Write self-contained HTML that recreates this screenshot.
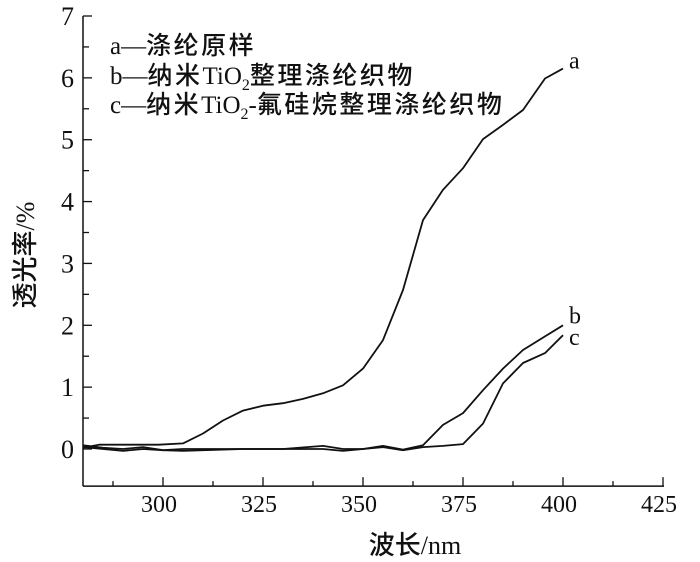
<!DOCTYPE html>
<html><head><meta charset="utf-8"><style>
html,body{margin:0;padding:0;background:#fff;}
svg{display:block;}
text{font-family:"Liberation Serif","Noto Serif CJK SC","Noto Sans CJK SC",serif;fill:#111;}
.cjk{font-family:"Liberation Serif","Noto Sans CJK SC",sans-serif;font-weight:500;}
.leg .cjk{letter-spacing:2.5px;}
</style></head><body>
<svg id="chart" width="700" height="562" viewBox="0 0 700 562" xmlns="http://www.w3.org/2000/svg">
<g id="axes"></g>
<g id="series"></g>
<g class="leg">
<text x="110" y="54" font-size="25">a—<tspan class="cjk">涤纶原样</tspan></text>
<text x="110" y="84" font-size="25">b—<tspan class="cjk">纳米</tspan>TiO<tspan font-size="16" dy="6">2</tspan><tspan class="cjk" dy="-6">整理涤纶织物</tspan></text>
<text x="110" y="113" font-size="25">c—<tspan class="cjk">纳米</tspan>TiO<tspan font-size="16" dy="6">2</tspan><tspan dy="-6">-</tspan><tspan class="cjk">氟硅烷整理涤纶织物</tspan></text>
</g>
<text transform="translate(34,255) rotate(-90)" text-anchor="middle" font-size="26"><tspan class="cjk">透光率</tspan>/%</text>
<text x="415" y="554" text-anchor="middle" font-size="26"><tspan class="cjk">波长</tspan>/nm</text>
</svg>
<script>
const xTicks=[300,325,350,375,400,425];
const yTicks=[0,1,2,3,4,5,6,7];
const xA=[280,284,299,305,310,315,320,325,330,335,340,345,350,355,360,365,370,375,380,385,390,395.5,400];
const yA=[0.02,0.07,0.07,0.09,0.25,0.46,0.62,0.70,0.74,0.81,0.90,1.03,1.30,1.76,2.57,3.70,4.19,4.54,5.01,5.24,5.48,5.99,6.15];
const xB=[280,285,290,295,300,305,310,320,330,340,345,350,355,360,365,370,375,380,385,390,395.5,400];
const yB=[0.06,0.02,0.0,0.03,-0.02,0.0,0.0,0.0,0.0,0.05,0.0,0.0,0.05,-0.01,0.06,0.39,0.58,0.95,1.30,1.60,1.82,2.0];
const xC=[280,285,290,295,300,305,310,320,330,340,345,350,355,360,365,370,375,380,385,390,395.5,400];
const yC=[0.03,0.0,-0.03,0.0,-0.02,-0.03,-0.02,0.0,0.0,0.0,-0.03,0.0,0.03,-0.02,0.03,0.05,0.08,0.41,1.06,1.39,1.55,1.84];
const ns="http://www.w3.org/2000/svg";
const X0=83,X1=663,Y0=449,YT=16;
function sx(v){return X0+(v-280)*(X1-X0)/145;}
function sy(v){return Y0-v*(Y0-YT)/7;}
const axes=document.getElementById('axes');
function mk(tag,attrs,parent){const e=document.createElementNS(ns,tag);for(const k in attrs)e.setAttribute(k,attrs[k]);parent.appendChild(e);return e;}
const base=sy(-0.6);
let e=mk('line',{x1:X0,y1:YT,x2:X0,y2:base,stroke:'#111','stroke-width':1.5},axes);


e=mk('line',{x1:X0,y1:base,x2:X1+1,y2:base,stroke:'#111','stroke-width':1.5},axes);


xTicks.forEach(t=>{
  const x=sx(t);
  let l=mk('line',{x1:x,y1:base,x2:x,y2:base-9,stroke:'#111','stroke-width':1.3},axes);
  
  
  let m=mk('line',{x1:sx(t-12.5),y1:base,x2:sx(t-12.5),y2:base-5,stroke:'#111','stroke-width':1.3},axes);
  
  
  let tx=mk('text',{x:x-4,y:base+26,'text-anchor':'middle','font-size':24},axes);
  tx.textContent=t;
  
  
});
yTicks.forEach(t=>{
  const y=sy(t);
  let l=mk('line',{x1:X0,y1:y,x2:X0+9,y2:y,stroke:'#111','stroke-width':1.3},axes);
  
  
  if(t<7){let m=mk('line',{x1:X0,y1:sy(t+0.5),x2:X0+6,y2:sy(t+0.5),stroke:'#111','stroke-width':1.3},axes);
  
  }
  let tx=mk('text',{x:74,y:y+9,'text-anchor':'end','font-size':26},axes);
  tx.textContent=t;
  
  
});
const sg=document.getElementById('series');
function drawLine(xs,ys,name,label,dy){
  const d=xs.map((v,i)=>(i?'L':'M')+sx(v).toFixed(1)+','+sy(ys[i]).toFixed(1)).join(' ');
  const p=mk('path',{d:d,fill:'none',stroke:'#111','stroke-width':1.8,'stroke-linejoin':'round'},sg);
  
  
  const lx=sx(xs[xs.length-1]),ly=sy(ys[ys.length-1]);
  const t=mk('text',{x:lx+6,y:ly+dy,'font-size':24},sg);
  t.textContent=label;
  
  
}
drawLine(xA,yA,'series-a','a',0);
drawLine(xB,yB,'series-b','b',-2);
drawLine(xC,yC,'series-c','c',10);
</script>
</body></html>
